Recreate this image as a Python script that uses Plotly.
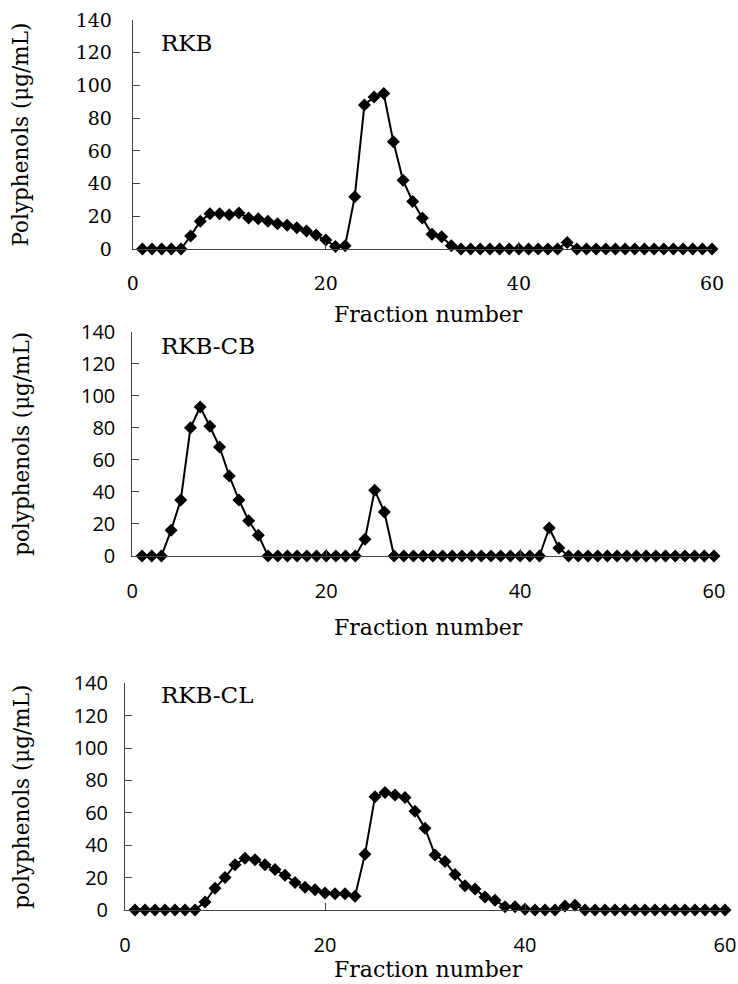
import plotly.graph_objects as go

fractions = list(range(1, 61))

rkb = [0, 0, 0, 0, 0, 8, 17, 21.5, 21.5, 21,
       22, 19, 18.5, 17, 15.5, 14.5, 13, 11, 8.5, 5.5,
       1.5, 2, 32, 88, 93, 95, 65.5, 42, 29, 19,
       9, 7.5, 2, 0, 0, 0, 0, 0, 0, 0,
       0, 0, 0, 0, 4, 0, 0, 0, 0, 0,
       0, 0, 0, 0, 0, 0, 0, 0, 0, 0]

rkb_cb = [0, 0, 0, 16, 35, 80, 93, 81, 68, 50,
          35, 22, 13, 0, 0, 0, 0, 0, 0, 0,
          0, 0, 0, 10.5, 41, 27.5, 0, 0, 0, 0,
          0, 0, 0, 0, 0, 0, 0, 0, 0, 0,
          0, 0, 17.5, 5, 0, 0, 0, 0, 0, 0,
          0, 0, 0, 0, 0, 0, 0, 0, 0, 0]

rkb_cl = [0, 0, 0, 0, 0, 0, 0, 5, 13.5, 20,
          28, 32, 31, 28, 25, 21.5, 17, 14, 12.5, 10.5,
          10, 10, 8.5, 34.5, 70, 72.5, 71, 69.5, 61, 50.5,
          34, 30, 22, 15, 13, 8, 6, 2, 2, 0.5,
          0, 0, 0, 2.5, 3, 0, 0, 0, 0, 0,
          0, 0, 0, 0, 0, 0, 0, 0, 0, 0]

panel_labels = ["RKB", "RKB-CB", "RKB-CL"]
y_titles = ["Polyphenols (\u03bcg/mL)", "polyphenols (\u03bcg/mL)", "polyphenols (\u03bcg/mL)"]
x_title = "Fraction number"
x_ticks = [0, 20, 40, 60]
y_ticks = [0, 20, 40, 60, 80, 100, 120, 140]

W, H = 738, 984
SERIF = "DejaVu Serif"
SANS = "Open Sans"

# pixel boxes: (x0, x1, ytop, ybottom)
boxes = [(132.7, 712, 20, 249), (132.3, 714, 331.7, 556), (125, 725, 683.3, 910)]
tick_fonts = [SERIF, SANS, SANS]
tick_sizes = [19, 20, 20]
xtitle_y = [314, 627, 969]
ytitle_x = [20, 22, 22]
label_y = [43.5, 346, 694.5]

fig = go.Figure()
series = [rkb, rkb_cb, rkb_cl]
for i, (ys, box) in enumerate(zip(series, boxes)):
    n = i + 1
    fig.add_trace(go.Scatter(
        x=fractions, y=ys, mode="lines+markers",
        line=dict(color="black", width=2),
        marker=dict(symbol="diamond", size=10, color="black"),
        xaxis="x" if n == 1 else f"x{n}", yaxis="y" if n == 1 else f"y{n}",
        showlegend=False, hoverinfo="skip", cliponaxis=False))
    x0, x1, yt, yb = box
    axcommon = dict(showline=True, linecolor="#444", linewidth=1, showgrid=False,
                    zeroline=False, ticks="inside", ticklen=7, tickcolor="#444",
                    automargin=False,
                    tickfont=dict(family=tick_fonts[i], size=tick_sizes[i], color="black"))
    xa = dict(domain=[x0 / W, x1 / W], range=[0, 60], tickvals=x_ticks,
              anchor="y" if n == 1 else f"y{n}", ticklabelstandoff=17, **axcommon)
    ya = dict(domain=[1 - yb / H, 1 - yt / H], range=[0, 140], tickvals=y_ticks,
              anchor="x" if n == 1 else f"x{n}", ticklabelstandoff=16 if n == 1 else 12,
              **axcommon)
    fig.update_layout(**{("xaxis" if n == 1 else f"xaxis{n}"): xa,
                         ("yaxis" if n == 1 else f"yaxis{n}"): ya})
    # panel label
    fig.add_annotation(x=159 / W, y=1 - label_y[i] / H, xref="paper", yref="paper",
                       text=panel_labels[i], showarrow=False, xanchor="left", yanchor="middle",
                       font=dict(family=SERIF, size=23, color="black"))
    # x title
    fig.add_annotation(x=428 / W, y=1 - xtitle_y[i] / H, xref="paper", yref="paper",
                       text=x_title, showarrow=False, xanchor="center", yanchor="middle",
                       borderpad=0,
                       font=dict(family=SERIF, size=22, color="black"))
    # y title
    fig.add_annotation(x=ytitle_x[i] / W, y=1 - (yt + yb) / 2 / H, xref="paper", yref="paper",
                       text=y_titles[i], showarrow=False, textangle=-90,
                       xanchor="center", yanchor="middle",
                       font=dict(family=SERIF, size=21.5, color="black"))

fig.update_layout(width=W, height=H, margin=dict(l=0, r=0, t=0, b=0),
                  plot_bgcolor="white", paper_bgcolor="white")
fig.write_html("out.html", config={"displayModeBar": False},
               post_script="document.body.style.margin='0';document.body.style.overflow='hidden';")
